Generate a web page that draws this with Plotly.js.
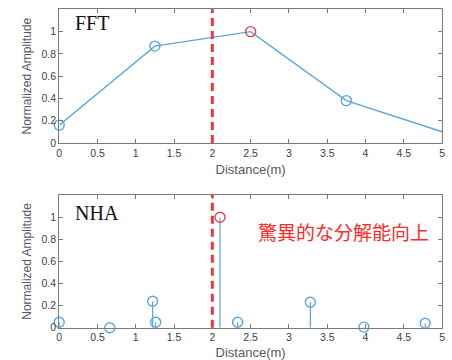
<!DOCTYPE html>
<html>
<head>
<meta charset="utf-8">
<script src="https://cdn.plot.ly/plotly-3.0.1.min.js"></script>
<style>html,body{margin:0;padding:0;background:#fff;}#chart{width:452px;height:360px;}</style>
</head>
<body>
<div id="chart"></div>
<script>
// FFT result
const fftX = [0, 1.25, 2.5, 3.75, 5];
const fftY = [0.16, 0.87, 1.0, 0.38, 0.10];
const fftMarkerX = [0, 1.25, 3.75];
const fftMarkerY = [0.16, 0.87, 0.38];
const fftPeakX = [2.5];
const fftPeakY = [1.0];
// NHA result (stems)
const nhaX = [0, 0.66, 1.22, 1.26, 2.33, 3.28, 3.98, 4.78];
const nhaY = [0.05, 0.0, 0.24, 0.05, 0.05, 0.23, 0.005, 0.04];
const nhaPeakX = [2.1];
const nhaPeakY = [1.0];
const trueDistance = 2;
const xTicks = [0, 0.5, 1, 1.5, 2, 2.5, 3, 3.5, 4, 4.5, 5];
const xTickText = ['0', '0.5', '1', '1.5', '2', '2.5', '3', '3.5', '4', '4.5', '5'];
const yTicks = [0, 0.2, 0.4, 0.6, 0.8, 1];
const yTickText = ['0', '0.2', '0.4', '0.6', '0.8', '1'];
const panelLabels = ['FFT', 'NHA'];
const note = '驚異的な分解能向上';

const blue = '#5aa6de';
const red = '#e8404c';
const dashRed = '#f0383c';

const stemErr = ys => ({type: 'data', symmetric: false, array: ys.map(() => 0), arrayminus: ys, width: 0, color: blue, thickness: 1.2});

const traces = [
  {x: fftX, y: fftY, mode: 'lines', line: {color: blue, width: 1.4}, xaxis: 'x', yaxis: 'y', hoverinfo: 'skip'},
  {x: fftMarkerX, y: fftMarkerY, mode: 'markers', cliponaxis: false, marker: {symbol: 'circle-open', size: 10, color: blue, line: {width: 1.4, color: blue}}, xaxis: 'x', yaxis: 'y'},
  {x: fftPeakX, y: fftPeakY, mode: 'markers', cliponaxis: false, marker: {symbol: 'circle-open', size: 10, color: red, line: {width: 1.4, color: red}}, xaxis: 'x', yaxis: 'y'},
  {x: nhaX, y: nhaY, mode: 'markers', cliponaxis: false, error_y: stemErr(nhaY), marker: {symbol: 'circle-open', size: 10, color: blue, line: {width: 1.4, color: blue}}, xaxis: 'x2', yaxis: 'y2'},
  {x: nhaPeakX, y: nhaPeakY, mode: 'markers', cliponaxis: false, error_y: stemErr(nhaPeakY), marker: {symbol: 'circle-open', size: 10, color: red, line: {width: 1.4, color: red}}, xaxis: 'x2', yaxis: 'y2'}
];

const axisCommon = {
  showline: true, linecolor: '#7a7a7a', linewidth: 1, mirror: 'ticks',
  ticks: 'inside', ticklen: 4, tickcolor: '#7a7a7a', showgrid: false, zeroline: false,
  tickfont: {family: 'Liberation Sans, Arial, sans-serif', size: 10.5, color: '#3a3f4a'}
};
const xAx = (anchor) => Object.assign({}, axisCommon, {
  range: [0, 5], domain: [0.131, 0.978], anchor: anchor, tickmode: 'array', tickvals: xTicks, ticktext: xTickText,
  title: {text: 'Distance(m)', font: {family: 'Liberation Sans, Arial, sans-serif', size: 13, color: '#55595f'}, standoff: 7}
});
const yAx = (anchor, domain) => Object.assign({}, axisCommon, {
  range: [0, 1.2], domain: domain, anchor: anchor, tickmode: 'array', tickvals: yTicks, ticktext: yTickText,
  title: {text: 'Normalized Amplitude', font: {family: 'Liberation Sans, Arial, sans-serif', size: 12, color: '#55595f'}, standoff: 7}
});

const layout = {
  width: 452, height: 360,
  margin: {l: 0, r: 0, t: 0, b: 0},
  paper_bgcolor: '#ffffff', plot_bgcolor: '#ffffff',
  showlegend: false,
  xaxis: xAx('y'),
  yaxis: yAx('x', [0.603, 0.974]),
  xaxis2: xAx('y2'),
  yaxis2: yAx('x2', [0.0897, 0.458]),
  shapes: [
    {type: 'line', xref: 'x', yref: 'y domain', x0: trueDistance, x1: trueDistance, y0: 0, y1: 1, line: {color: dashRed, width: 3, dash: '8px,5px'}},
    {type: 'line', xref: 'x2', yref: 'y2 domain', x0: trueDistance, x1: trueDistance, y0: 0, y1: 1, line: {color: dashRed, width: 3, dash: '8px,5px'}}
  ],
  annotations: [
    {text: panelLabels[0], xref: 'x domain', yref: 'y domain', x: 0.036, y: 0.898, xanchor: 'left', yanchor: 'middle', showarrow: false, font: {family: 'Liberation Serif, Times New Roman, serif', size: 20, color: '#111'}},
    {text: panelLabels[1], xref: 'x2 domain', yref: 'y2 domain', x: 0.036, y: 0.862, xanchor: 'left', yanchor: 'middle', showarrow: false, font: {family: 'Liberation Serif, Times New Roman, serif', size: 20, color: '#111'}},
    {text: note, xref: 'x2 domain', yref: 'y2 domain', x: 0.743, y: 0.723, xanchor: 'center', yanchor: 'middle', showarrow: false, font: {family: 'Noto Sans CJK JP, sans-serif', size: 19, color: '#ff2a2a'}}
  ]
};

Plotly.newPlot('chart', traces, layout, {displayModeBar: false, staticPlot: true});
</script>
</body>
</html>
